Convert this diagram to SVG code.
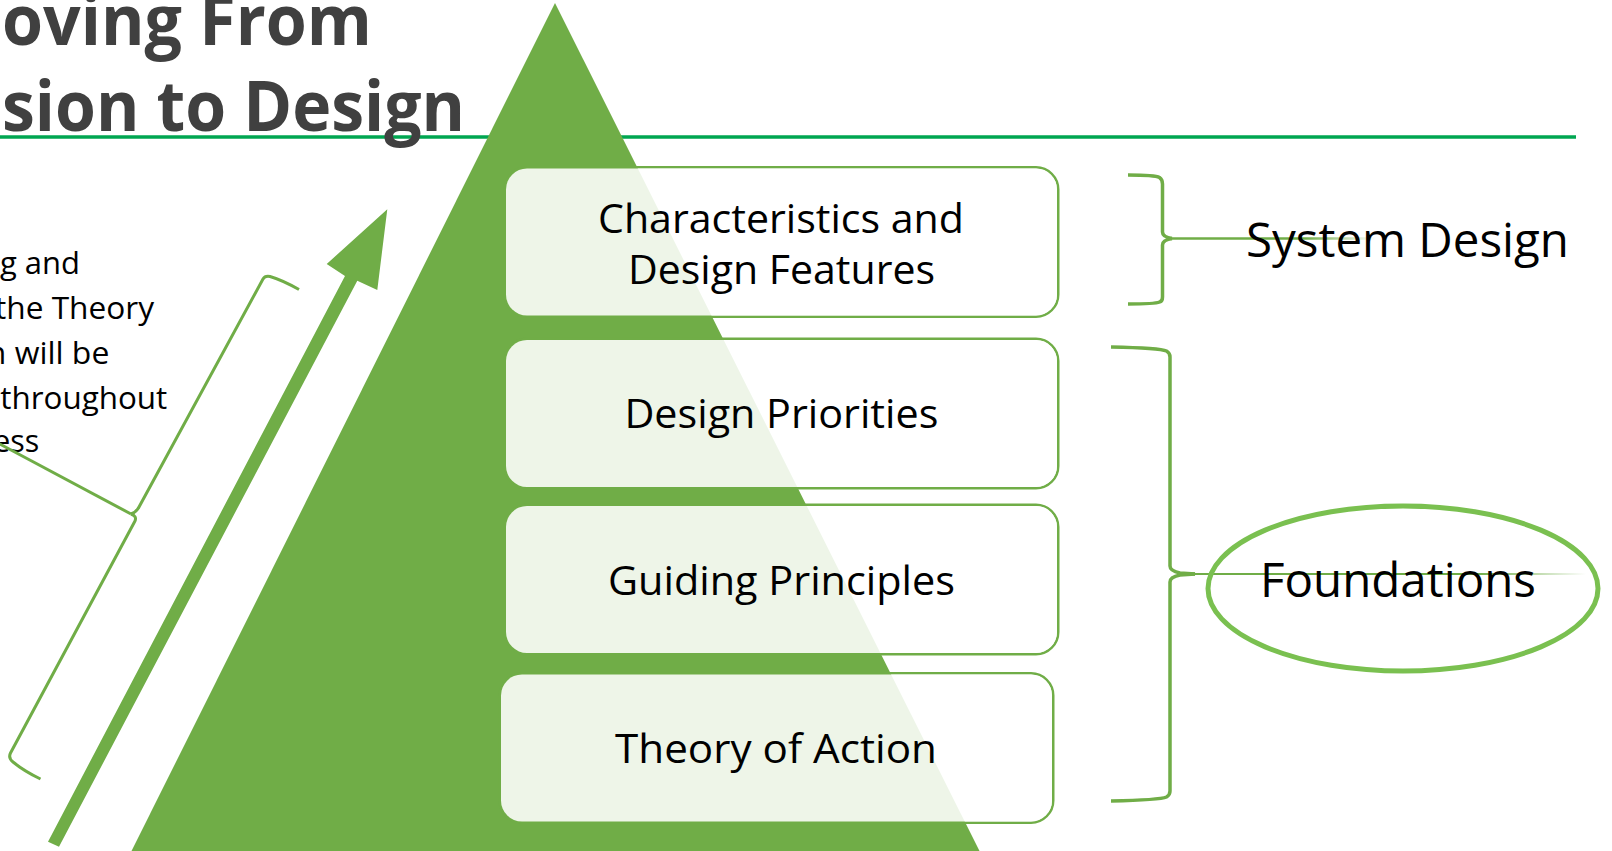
<svg xmlns="http://www.w3.org/2000/svg" width="1612" height="851" viewBox="0 0 1612 851">
<defs>
<style>
.title{font-family:'Open Sans','Liberation Sans',sans-serif;font-weight:700;font-size:70px;fill:#404040}
.txt{font-family:'Open Sans','Liberation Sans',sans-serif;fill:#000000}
.boxtxt{font-size:41px;text-anchor:middle}
.lbl{font-size:47.5px}
.side{font-size:31px}
.bstroke{fill:none;stroke:#70AD47;stroke-width:2.5}
.bfill{fill:#ffffff;fill-opacity:0.88}
.brace{fill:none;stroke:#70AD47;stroke-width:3.5;stroke-linejoin:round}
.lbrace{fill:none;stroke:#70AD47;stroke-width:3;stroke-linejoin:round}
</style>
<linearGradient id="fadeSys" gradientUnits="userSpaceOnUse" x1="1172" y1="0" x2="1376" y2="0">
<stop offset="0" stop-color="#70AD47"/>
<stop offset="0.65" stop-color="#70AD47"/>
<stop offset="1" stop-color="#70AD47" stop-opacity="0"/>
</linearGradient>
<linearGradient id="fadeFound" gradientUnits="userSpaceOnUse" x1="1195" y1="0" x2="1586" y2="0">
<stop offset="0" stop-color="#70AD47"/>
<stop offset="0.72" stop-color="#70AD47"/>
<stop offset="1" stop-color="#70AD47" stop-opacity="0"/>
</linearGradient>
</defs>

<rect x="0" y="0" width="1612" height="851" fill="#ffffff"/>

<g id="title">
<line x1="0" y1="137" x2="1576" y2="137" stroke="#00A651" stroke-width="3.5"/>
<text class="title" x="2" y="45" textLength="370" lengthAdjust="spacingAndGlyphs">oving From</text>
<text class="title" x="2" y="131" textLength="463" lengthAdjust="spacingAndGlyphs">sion to Design</text>
</g>

<g id="pyramid">
<polygon points="555,3 127,860 984,860" fill="#70AD47"/>
</g>

<g id="arrow">
<polygon points="48,841.7 345,276 326.7,264 387.3,209.3 377.3,290 357.3,280.7 59,846.7" fill="#70AD47"/>
</g>

<g id="side-note">
<text class="txt side" x="0" y="274" textLength="80" lengthAdjust="spacingAndGlyphs">g and</text>
<text class="txt side" x="-5" y="318.5" textLength="159" lengthAdjust="spacingAndGlyphs">the Theory</text>
<text class="txt side" x="-13.2" y="364" textLength="122.5" lengthAdjust="spacingAndGlyphs">n will be</text>
<text class="txt side" x="0.3" y="408.5" textLength="167" lengthAdjust="spacingAndGlyphs">throughout</text>
<text class="txt side" x="-6.7" y="452" textLength="46" lengthAdjust="spacingAndGlyphs">ess</text>
</g>

<g id="box-characteristics">
<rect class="bstroke" x="504.75" y="167.25" width="553.5" height="149.5" rx="22.25"/>
<rect class="bfill" x="506" y="168.5" width="551" height="147" rx="21"/>
<text class="txt boxtxt" x="781" y="233" textLength="366" lengthAdjust="spacingAndGlyphs">Characteristics and</text>
<text class="txt boxtxt" x="781.5" y="284" textLength="307" lengthAdjust="spacingAndGlyphs">Design Features</text>
</g>

<g id="box-priorities">
<rect class="bstroke" x="504.75" y="338.75" width="553.5" height="149.5" rx="22.25"/>
<rect class="bfill" x="506" y="340" width="551" height="147" rx="21"/>
<text class="txt boxtxt" x="781.4" y="428" textLength="314" lengthAdjust="spacingAndGlyphs">Design Priorities</text>
</g>

<g id="box-principles">
<rect class="bstroke" x="504.75" y="504.75" width="553.5" height="149.5" rx="22.25"/>
<rect class="bfill" x="506" y="506" width="551" height="147" rx="21"/>
<text class="txt boxtxt" x="781.5" y="595" textLength="347" lengthAdjust="spacingAndGlyphs">Guiding Principles</text>
</g>

<g id="box-theory">
<rect class="bstroke" x="499.75" y="673.25" width="553.5" height="149.5" rx="22.25"/>
<rect class="bfill" x="501" y="674.5" width="551" height="147" rx="21"/>
<text class="txt boxtxt" x="776" y="763" textLength="322" lengthAdjust="spacingAndGlyphs">Theory of Action</text>
</g>

<g id="connectors">
<path class="lbrace" d="M299,289.5 Q282,280 270,276.5 Q265,275.5 263,279 L139,507 Q136.5,512 131,514"/>
<path class="lbrace" d="M131,514 Q137,516 135,521 L10.5,753 Q8,758 13,762 Q24,771 40.5,779"/>
<path class="lbrace" d="M131,514 L-4,442"/>

<path class="brace" d="M1128,175 Q1155,175 1159.5,177.5 Q1162.5,179.5 1162.5,184 L1162.5,232 Q1162.5,237 1172,238.5"/>
<path class="brace" d="M1172,238.5 Q1162.5,240 1162.5,245 L1162.5,297 Q1162.5,301.5 1159.5,302 Q1155,304 1128,304"/>
<line x1="1170" y1="238.5" x2="1376" y2="238.5" stroke="url(#fadeSys)" stroke-width="2.5"/>

<path class="brace" d="M1111,347 Q1160,348 1166.5,351 Q1170,353 1170,357 L1170,566 Q1170,571 1180,573 L1195,574"/>
<path class="brace" d="M1195,574 L1180,575 Q1170,577 1170,582 L1170,791 Q1170,795 1166.5,797 Q1160,800 1111,801"/>
<line x1="1190" y1="574" x2="1586" y2="574" stroke="url(#fadeFound)" stroke-width="2.2"/>
</g>

<g id="system-design">
<text class="txt lbl" x="1246" y="257" textLength="323" lengthAdjust="spacingAndGlyphs">System Design</text>
</g>

<g id="foundations">
<ellipse cx="1403" cy="588.5" rx="195" ry="82.5" fill="none" stroke="#7AC050" stroke-width="5"/>
<text class="txt lbl" x="1260" y="597" textLength="276" lengthAdjust="spacingAndGlyphs">Foundations</text>
</g>
</svg>
